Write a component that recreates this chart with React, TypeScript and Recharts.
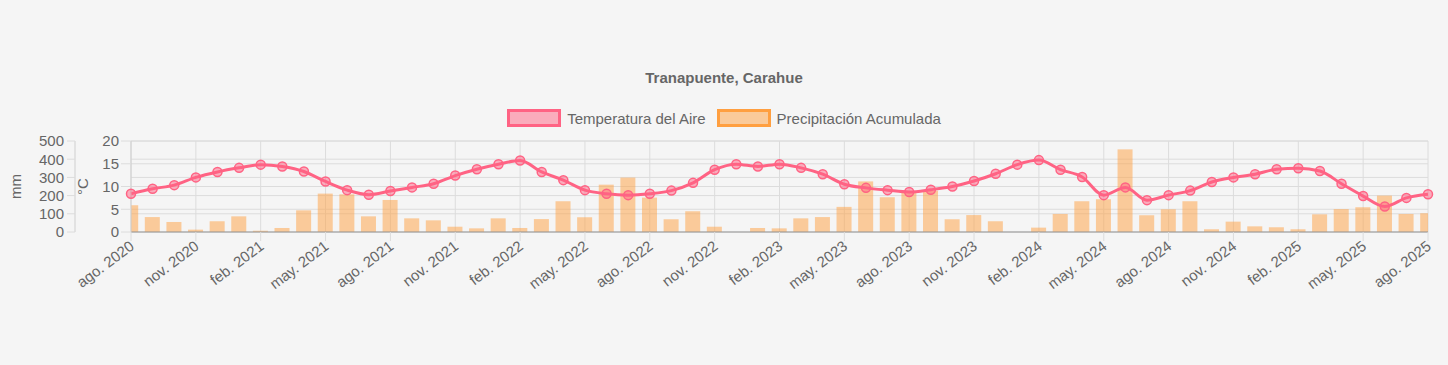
import React from "react";
import {
  Bar,
  CartesianGrid,
  ComposedChart,
  Line,
  XAxis,
  YAxis,
} from "recharts";

// Serie mensual ago. 2020 – ago. 2025 (61 meses)
const temperature = [
  8.4, 9.5, 10.3, 12.0, 13.2, 14.1, 14.8, 14.4, 13.3, 11.1, 9.2, 8.2,
  9.0, 9.8, 10.6, 12.4, 13.8, 14.9, 15.7, 13.2, 11.4, 9.2, 8.4, 8.1,
  8.4, 9.1, 10.8, 13.7, 14.9, 14.4, 14.9, 14.1, 12.7, 10.5, 9.7, 9.2,
  8.8, 9.3, 10.0, 11.2, 12.8, 14.8, 15.8, 13.7, 12.1, 8.1, 9.8, 7.0,
  8.1, 9.1, 11.0, 12.0, 12.7, 13.8, 14.0, 13.4, 10.6, 7.9, 5.6, 7.5,
  8.3,
];

const precipitation = [
  147, 82, 55, 13, 59, 86, 7, 22, 119, 211, 207, 86,
  176, 75, 64, 29, 20, 75, 22, 71, 169, 81, 260, 299,
  189, 70, 114, 29, 0, 22, 20, 75, 82, 138, 278, 191,
  222, 227, 70, 93, 59, 0, 24, 99, 169, 180, 454, 92,
  125, 169, 15, 57, 31, 26, 15, 97, 126, 136, 200, 99,
  103,
];

// etiquetas cada 3 meses
const tickLabels = [
  "ago. 2020", "nov. 2020", "feb. 2021", "may. 2021", "ago. 2021",
  "nov. 2021", "feb. 2022", "may. 2022", "ago. 2022", "nov. 2022",
  "feb. 2023", "may. 2023", "ago. 2023", "nov. 2023", "feb. 2024",
  "may. 2024", "ago. 2024", "nov. 2024", "feb. 2025", "may. 2025",
  "ago. 2025",
];

const tempTicks = [0, 5, 10, 15, 20];
const mmTicks = [0, 100, 200, 300, 400, 500];

const data = temperature.map((t, i) => ({ i, temp: t, precip: precipitation[i] }));
const xTicks = tickLabels.map((_, k) => k * 3);

const W = 1448;
const H = 365;
const MARGIN = { top: 141, right: 20, left: 0, bottom: 73 };
const MM_W = 75;
const C_W = 56;
const PLOT_L = MARGIN.left + MM_W + C_W;
const PLOT_R = W - MARGIN.right;

const PINK = "#ff6384";
const ORANGE = "#ff9f40";
const GRID = "#dcdcdc";
const TEXT = "#666";

const XTick = ({ x, y, payload }: any) => (
  <g transform={`translate(${x + 1},${y + 3})`}>
    <text textAnchor="end" dy="0.35em" transform="rotate(-37)" fill={TEXT} fontSize={15}>
      {tickLabels[payload.value / 3]}
    </text>
  </g>
);

// barras recortadas al área del gráfico (primera y última quedan a medias)
const ClippedBar = ({ x, y, width, height, fill }: any) => {
  if (!height || height <= 0) return null;
  const x0 = Math.max(x, PLOT_L);
  const x1 = Math.min(x + width, PLOT_R);
  return <rect x={x0} y={y} width={Math.max(0, x1 - x0)} height={height} fill={fill} />;
};

const axisTitle = (text: string, dx: number) => ({ viewBox }: any) => {
  const cx = viewBox.x + dx;
  const cy = viewBox.y + viewBox.height / 2;
  return (
    <text x={cx} y={cy} textAnchor="middle" transform={`rotate(-90, ${cx}, ${cy})`} fill={TEXT} fontSize={15}>
      {text}
    </text>
  );
};

const LegendBox = ({ fill, stroke }: { fill: string; stroke: string }) => (
  <span
    style={{
      display: "inline-block",
      width: 48,
      height: 12,
      background: fill,
      border: `3px solid ${stroke}`,
      marginRight: 6,
    }}
  />
);

export default function App() {
  return (
    <div
      style={{
        position: "absolute",
        left: 0,
        top: 0,
        width: W,
        height: H,
        background: "#f5f5f5",
        fontFamily: "'Liberation Sans', Arial, sans-serif",
      }}
    >
      <div
        style={{
          position: "absolute",
          top: 69,
          left: 0,
          width: W,
          textAlign: "center",
          fontWeight: "bold",
          fontSize: 15,
          color: TEXT,
        }}
      >
        Tranapuente, Carahue
      </div>
      <div
        style={{
          position: "absolute",
          top: 109,
          left: 0,
          width: W,
          display: "flex",
          justifyContent: "center",
          alignItems: "center",
          fontSize: 15,
          color: TEXT,
        }}
      >
        <LegendBox fill="rgba(255,99,132,0.5)" stroke={PINK} />
        <span style={{ marginRight: 11 }}>Temperatura del Aire</span>
        <LegendBox fill="rgba(255,159,64,0.5)" stroke={ORANGE} />
        <span>Precipitación Acumulada</span>
      </div>
      <ComposedChart width={W} height={H} data={data} margin={MARGIN}>
        <CartesianGrid yAxisId="b" stroke={GRID} vertical={false} />
        <CartesianGrid yAxisId="a" stroke={GRID} />
        <XAxis
          dataKey="i"
          type="number"
          domain={[0, 60]}
          ticks={xTicks}
          interval={0}
          height={60}
          tick={<XTick />}
          tickSize={9}
          tickMargin={0}
          tickLine={{ stroke: GRID }}
          axisLine={{ stroke: "#999" }}
        />
        {/* °C: pegado al área del gráfico */}
        <YAxis
          yAxisId="a"
          orientation="left"
          width={C_W}
          domain={[0, 20]}
          ticks={tempTicks}
          interval={0}
          tickSize={10}
          tickMargin={2}
          tick={{ fill: TEXT, fontSize: 15 }}
          tickLine={{ stroke: GRID }}
          axisLine={{ stroke: "#cfcfcf" }}
          label={axisTitle("°C", 13)}
        />
        {/* mm: eje exterior */}
        <YAxis
          yAxisId="b"
          orientation="left"
          width={MM_W}
          domain={[0, 500]}
          ticks={mmTicks}
          interval={0}
          tickSize={8}
          tickMargin={3}
          tick={{ fill: TEXT, fontSize: 15 }}
          tickLine={{ stroke: GRID }}
          axisLine={{ stroke: "#cfcfcf" }}
          label={axisTitle("mm", 21)}
        />
        <Bar
          yAxisId="b"
          dataKey="precip"
          barSize={15}
          fill="rgba(255,159,64,0.5)"
          shape={<ClippedBar />}
          isAnimationActive={false}
        />
        <Line
          yAxisId="a"
          dataKey="temp"
          type="monotone"
          stroke={PINK}
          strokeWidth={3}
          dot={{ r: 4.5, fill: "rgba(255,99,132,0.5)", stroke: PINK, strokeWidth: 1.5 }}
          activeDot={false}
          isAnimationActive={false}
        />
      </ComposedChart>
    </div>
  );
}
